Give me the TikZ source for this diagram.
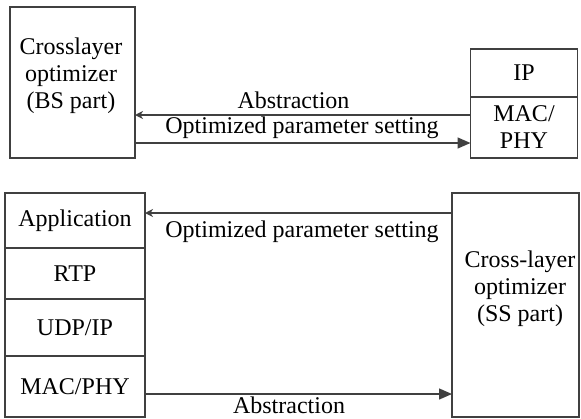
\documentclass[tikz,border=0pt]{standalone}
\usepackage{fontspec}
\setmainfont{Liberation Serif}
\usetikzlibrary{arrows.meta, positioning}

\begin{document}
\begin{tikzpicture}[x=1pt, y=-1pt,
                every node/.style={font=\fontsize{24}{27}\selectfont},
                box/.style={draw=black!75, line width=1.4pt, inner sep=0pt, outer sep=0pt},
                txt/.style={align=center, inner sep=0pt},
                link/.style={draw=black!75, line width=1.4pt},
                tip small/.style={link, -{Stealth[length=8pt, width=8pt, inset=2.5pt]}},
                tip big/.style={link, -{Triangle[length=13pt, width=11pt]}}]
                \useasboundingbox (0,0) rectangle (581,418);

                % BS side - optimizer on the left, layers on the right
                \node[box, minimum width=125pt, minimum height=151pt] (bsopt) at (72.5,82.5) {};
                \node[txt] (bstext) at (71,76) {Crosslayer\\optimizer\\(BS part)};

                \node[box, minimum width=107pt, minimum height=48pt] (ip) at (524,73) {IP};
                \node[box, txt, minimum width=107pt, minimum height=61pt, below=0pt of ip] (bsmac) {MAC/\\PHY};

                \draw[tip small] ([yshift=12.5pt]bsmac.west) -- ([yshift=12.5pt]bsmac.west -| bsopt.east);
                \draw[tip big] ([yshift=-15.5pt]bsmac.west -| bsopt.east) -- ([yshift=-15.5pt]bsmac.west);
                \node[txt, anchor=base] (bsabs) at (293.5,108) {Abstraction};
                \node[txt, anchor=base] (bsset) at (302,133) {Optimized parameter setting};

                % SS side - protocol stack on the left, optimizer on the right
                \node[box, minimum width=140pt, minimum height=55pt] (app) at (75,220.5) {Application};
                \node[box, minimum width=140pt, minimum height=51pt, below=0pt of app] (rtp) {RTP};
                \node[box, minimum width=140pt, minimum height=57pt, below=0pt of rtp] (udp) {UDP/IP};
                \node[box, minimum width=140pt, minimum height=61pt, below=0pt of udp] (ssmac) {MAC/PHY};

                \node[box, minimum width=127pt, minimum height=224pt] (ssopt) at (515.5,305) {};
                \node[txt] (sstext) at (520,289) {Cross-layer\\optimizer\\(SS part)};

                \draw[tip small] ([yshift=7.5pt]app.east -| ssopt.west) -- ([yshift=7.5pt]app.east);
                \draw[tip big] ([yshift=-7.5pt]ssmac.east) -- ([yshift=-7.5pt]ssmac.east -| ssopt.west);
                \node[txt, anchor=base] (ssset) at (302,237) {Optimized parameter setting};
                \node[txt, anchor=base] (ssabs) at (289,413.5) {Abstraction};
            \end{tikzpicture}
\end{document}
